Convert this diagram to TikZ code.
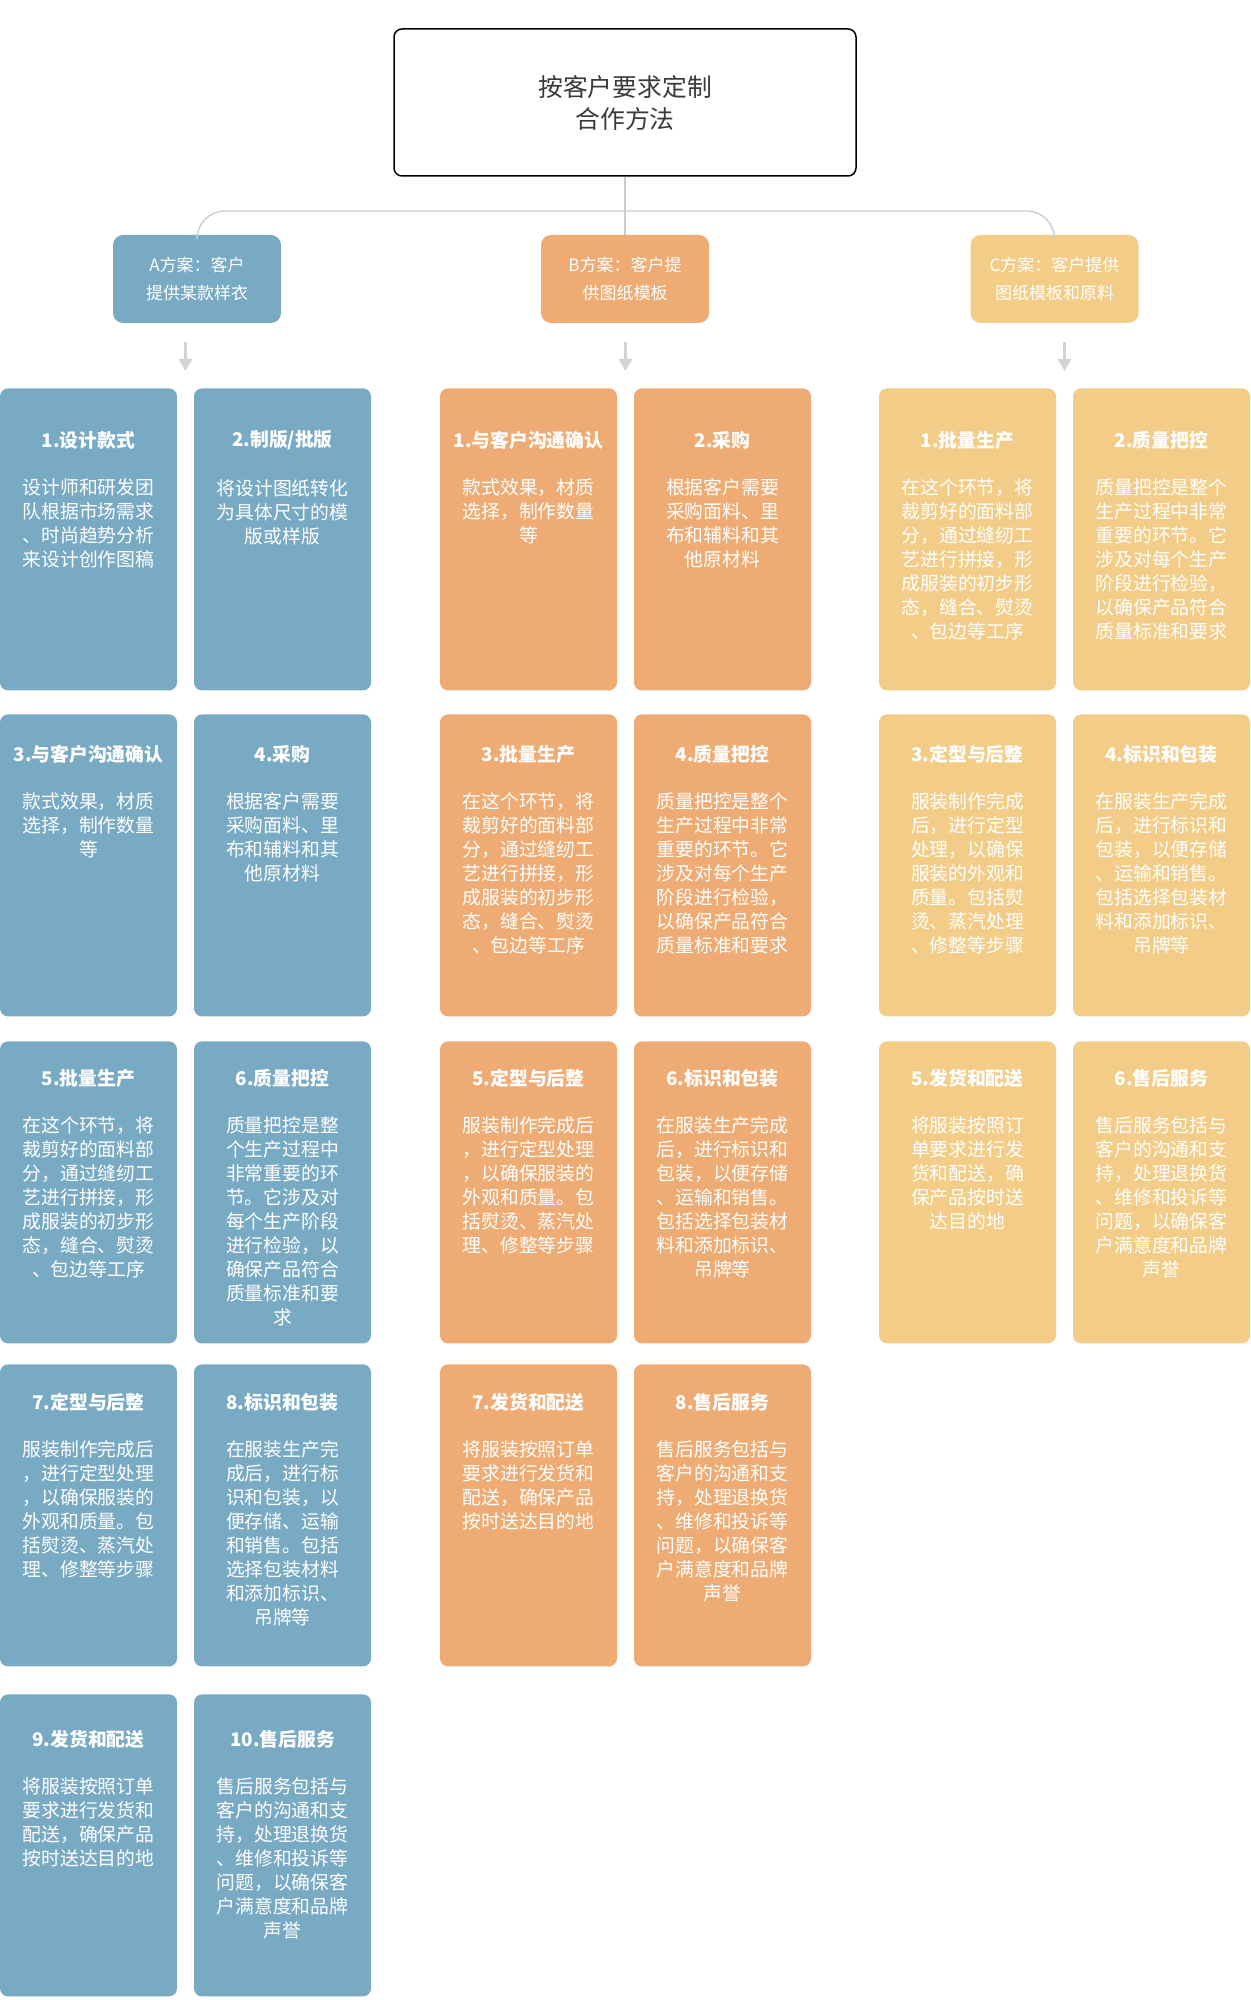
\documentclass[tikz,border=0pt]{standalone}
\usepackage{fontspec}
\setmainfont{Noto Sans CJK SC}
\usepackage{tikz}
\usetikzlibrary{arrows.meta,positioning}

\definecolor{planblue}{HTML}{79AAC4}
\definecolor{planorange}{HTML}{EEAC74}
\definecolor{planyellow}{HTML}{F3CD88}
\definecolor{linkgray}{HTML}{CCCCCC}
\definecolor{arrowgray}{HTML}{D3D3D3}
\definecolor{rootgray}{HTML}{3A3A3A}

% card: name, style, x, top, title y, title, text
\newcommand{\stepcard}[7]{%
    \node[#2] (#1) at (#3,#4) {};
    \node[cardtitle] (#1t) at (#3,#5) {#6};
    \node[cardtext, below=14.5pt of #1t] (#1b) {#7};
}

\begin{document}
\begin{tikzpicture}[
        x=0.5pt, y=-0.5pt,
        root/.style={draw=black, line width=0.75pt, rounded corners=4pt,
            minimum width=231pt, minimum height=73.5pt, align=center,
            text=rootgray, font=\fontsize{12.4pt}{16pt}\selectfont},
        plan/.style={rounded corners=5pt, minimum width=84pt,
            minimum height=44pt, align=center, text=white,
            font=\fontsize{8.5pt}{14pt}\selectfont},
        card/.style={rounded corners=4pt, minimum width=88.5pt,
            minimum height=151pt, anchor=north, inner sep=0pt},
        cardA/.style={card, fill=planblue},
        cardB/.style={card, fill=planorange},
        cardC/.style={card, fill=planyellow},
        cardtitle/.style={text=white, inner sep=0pt,
            font=\fontsize{9.4pt}{12pt}\selectfont\bfseries},
        cardtext/.style={text=white, inner sep=0pt, align=center,
            font=\fontsize{9.4pt}{12pt}\selectfont},
        link/.style={draw=linkgray, line width=0.7pt},
        flow/.style={draw=arrowgray, line width=1.5pt,
            -{Triangle[width=6.5pt,length=6pt]}},
    ]
    \useasboundingbox (0,0) rectangle (1250,2000);

    % root and plans
    \node[root] (root) at (625,102.5) {按客户要求定制\\合作方法};
    \node[plan, fill=planblue] (planA) at (197,279) {A方案：客户\\提供某款样衣};
    \node[plan, fill=planorange] (planB) at (625,279) {B方案：客户提\\供图纸模板};
    \node[plan, fill=planyellow] (planC) at (1054.5,279) {C方案：客户提供\\图纸模板和原料};

    \coordinate (bus) at (625,211);
    \draw[link] (root.south) -- (planB.north);
    \draw[link, rounded corners=14pt] (planA.north) |- (bus) -| (planC.north);

    % arrows
    \coordinate (aFrom) at (185.5,342);  \coordinate (aTo) at (185.5,371);
    \coordinate (bFrom) at (625.5,342);  \coordinate (bTo) at (625.5,371);
    \coordinate (cFrom) at (1064.5,342); \coordinate (cTo) at (1064.5,371);
    \draw[flow] (aFrom) -- (aTo);
    \draw[flow] (bFrom) -- (bTo);
    \draw[flow] (cFrom) -- (cTo);

    % row 1
    \stepcard{a1}{cardA}{88.5}{388}{440}{1.设计款式}{设计师和研发团\\队根据市场需求\\、时尚趋势分析\\来设计创作图稿}
    \stepcard{a2}{cardA}{282.5}{388}{440}{2.制版/批版}{将设计图纸转化\\为具体尺寸的模\\版或样版}
    \stepcard{b1}{cardB}{528.5}{388}{440}{1.与客户沟通确认}{款式效果，材质\\选择，制作数量\\等}
    \stepcard{b2}{cardB}{722.5}{388}{440}{2.采购}{根据客户需要\\采购面料、里\\布和辅料和其\\他原材料}
    \stepcard{c1}{cardC}{967.5}{388}{440}{1.批量生产}{在这个环节，将\\裁剪好的面料部\\分，通过缝纫工\\艺进行拼接，形\\成服装的初步形\\态，缝合、熨烫\\、包边等工序}
    \stepcard{c2}{cardC}{1161.5}{388}{440}{2.质量把控}{质量把控是整个\\生产过程中非常\\重要的环节。它\\涉及对每个生产\\阶段进行检验，\\以确保产品符合\\质量标准和要求}

    % row 2
    \stepcard{a3}{cardA}{88.5}{714}{754}{3.与客户沟通确认}{款式效果，材质\\选择，制作数量\\等}
    \stepcard{a4}{cardA}{282.5}{714}{754}{4.采购}{根据客户需要\\采购面料、里\\布和辅料和其\\他原材料}
    \stepcard{b3}{cardB}{528.5}{714}{754}{3.批量生产}{在这个环节，将\\裁剪好的面料部\\分，通过缝纫工\\艺进行拼接，形\\成服装的初步形\\态，缝合、熨烫\\、包边等工序}
    \stepcard{b4}{cardB}{722.5}{714}{754}{4.质量把控}{质量把控是整个\\生产过程中非常\\重要的环节。它\\涉及对每个生产\\阶段进行检验，\\以确保产品符合\\质量标准和要求}
    \stepcard{c3}{cardC}{967.5}{714}{754}{3.定型与后整}{服装制作完成\\后，进行定型\\处理，以确保\\服装的外观和\\质量。包括熨\\烫、蒸汽处理\\、修整等步骤}
    \stepcard{c4}{cardC}{1161.5}{714}{754}{4.标识和包装}{在服装生产完成\\后，进行标识和\\包装，以便存储\\、运输和销售。\\包括选择包装材\\料和添加标识、\\吊牌等}

    % row 3
    \stepcard{a5}{cardA}{88.5}{1041}{1078}{5.批量生产}{在这个环节，将\\裁剪好的面料部\\分，通过缝纫工\\艺进行拼接，形\\成服装的初步形\\态，缝合、熨烫\\、包边等工序}
    \stepcard{a6}{cardA}{282.5}{1041}{1078}{6.质量把控}{质量把控是整\\个生产过程中\\非常重要的环\\节。它涉及对\\每个生产阶段\\进行检验，以\\确保产品符合\\质量标准和要\\求}
    \stepcard{b5}{cardB}{528.5}{1041}{1078}{5.定型与后整}{服装制作完成后\\，进行定型处理\\，以确保服装的\\外观和质量。包\\括熨烫、蒸汽处\\理、修整等步骤}
    \stepcard{b6}{cardB}{722.5}{1041}{1078}{6.标识和包装}{在服装生产完成\\后，进行标识和\\包装，以便存储\\、运输和销售。\\包括选择包装材\\料和添加标识、\\吊牌等}
    \stepcard{c5}{cardC}{967.5}{1041}{1078}{5.发货和配送}{将服装按照订\\单要求进行发\\货和配送，确\\保产品按时送\\达目的地}
    \stepcard{c6}{cardC}{1161.5}{1041}{1078}{6.售后服务}{售后服务包括与\\客户的沟通和支\\持，处理退换货\\、维修和投诉等\\问题，以确保客\\户满意度和品牌\\声誉}

    % row 4
    \stepcard{a7}{cardA}{88.5}{1364}{1402}{7.定型与后整}{服装制作完成后\\，进行定型处理\\，以确保服装的\\外观和质量。包\\括熨烫、蒸汽处\\理、修整等步骤}
    \stepcard{a8}{cardA}{282.5}{1364}{1402}{8.标识和包装}{在服装生产完\\成后，进行标\\识和包装，以\\便存储、运输\\和销售。包括\\选择包装材料\\和添加标识、\\吊牌等}
    \stepcard{b7}{cardB}{528.5}{1364}{1402}{7.发货和配送}{将服装按照订单\\要求进行发货和\\配送，确保产品\\按时送达目的地}
    \stepcard{b8}{cardB}{722.5}{1364}{1402}{8.售后服务}{售后服务包括与\\客户的沟通和支\\持，处理退换货\\、维修和投诉等\\问题，以确保客\\户满意度和品牌\\声誉}

    % row 5
    \stepcard{a9}{cardA}{88.5}{1694}{1739}{9.发货和配送}{将服装按照订单\\要求进行发货和\\配送，确保产品\\按时送达目的地}
    \stepcard{a10}{cardA}{282.5}{1694}{1739}{10.售后服务}{售后服务包括与\\客户的沟通和支\\持，处理退换货\\、维修和投诉等\\问题，以确保客\\户满意度和品牌\\声誉}
\end{tikzpicture}
\end{document}
